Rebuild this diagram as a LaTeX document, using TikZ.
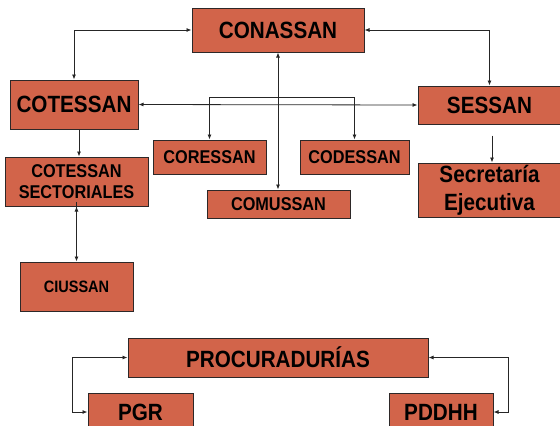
\documentclass[tikz,border=0pt]{standalone}
\usepackage{fontspec}
\usetikzlibrary{arrows.meta}
\newfontfamily\boxfont[FakeStretch=0.88]{Liberation Sans}
\definecolor{boxfill}{RGB}{210,100,74}
\definecolor{boxline}{RGB}{45,40,40}
\tikzset{
  orgbox/.style={draw=boxline, line width=1pt, fill=boxfill, inner sep=0pt,
    align=center, font=\boxfont\bfseries},
  big/.style={font=\boxfont\bfseries\fontsize{23.5}{28}\selectfont},
  small/.style={font=\boxfont\bfseries\fontsize{18.5}{22}\selectfont},
  tiny/.style={font=\boxfont\bfseries\fontsize{16.5}{20}\selectfont},
  conn/.style={line width=0.8pt, draw=black!85},
  tip/.style={-{Latex[length=5pt,width=4pt]}},
  tips/.style={{Latex[length=5pt,width=4pt]}-{Latex[length=5pt,width=4pt]}}
}
\begin{document}
\begin{tikzpicture}[x=1pt,y=-1pt]
\useasboundingbox (0,0) rectangle (560,426);
\node[orgbox,big,minimum width=172pt,minimum height=44pt] (conassan) at (278,30) {CONASSAN};
\node[orgbox,big,minimum width=128pt,minimum height=49pt] (cotessan) at (74,104.5) {COTESSAN};
\node[orgbox,big,minimum width=143pt,minimum height=38pt] (sessan) at (489.5,105) {SESSAN};
\node[orgbox,small,minimum width=143pt,minimum height=49pt] (sectoriales) at (76.5,181.5) {COTESSAN\\[-1pt]SECTORIALES};
\node[orgbox,small,minimum width=113pt,minimum height=34pt] (coressan) at (209.5,157) {CORESSAN};
\node[orgbox,small,minimum width=109pt,minimum height=34pt] (codessan) at (354.5,157) {CODESSAN};
\node[orgbox,small,minimum width=143pt,minimum height=28pt] (comussan) at (278.5,204) {COMUSSAN};
\node[orgbox,big,minimum width=143pt,minimum height=54pt] (secretaria) at (489.5,190) {Secretaría\\Ejecutiva};
\node[orgbox,tiny,minimum width=113pt,minimum height=49pt] (ciussan) at (76.5,286.5) {CIUSSAN};
\node[orgbox,big,minimum width=300pt,minimum height=39pt] (procuradurias) at (278,357.5) {PROCURADURÍAS};
\node[orgbox,big,minimum width=105pt,minimum height=38pt] (pgr) at (140.5,412) {PGR};
\node[orgbox,big,minimum width=104pt,minimum height=38pt] (pddhh) at (441,412) {PDDHH};
\coordinate (bar) at (278,97);
% connectors
\draw[conn,tips] (conassan.west) -| (cotessan.north);
\draw[conn,tips] (conassan.east) -| (sessan.north);
\draw[conn,tips] (cotessan.east) -- (sessan.west);
\draw[conn,tips] (conassan.south) -- (conassan.south |- comussan.north);
\draw[conn,tips] (coressan.north) -- (coressan.north |- bar) -| (codessan.north);
\draw[conn,tip] ([xshift=5pt]cotessan.south) -- ([xshift=5pt]cotessan.south |- sectoriales.north);
\draw[conn,tips] (sectoriales.south) -- (sectoriales.south -| ciussan.north) -- (ciussan.north);
\draw[conn,tip] ([xshift=2.5pt,yshift=-11pt]sessan.south) -- ([xshift=2.5pt]secretaria.north);
\draw[conn,tips] (procuradurias.west) -- ++(-55,0) |- (pgr.west);
\draw[conn,tips] (procuradurias.east) -- ++(80,0) |- (pddhh.east);
\end{tikzpicture}
\end{document}
